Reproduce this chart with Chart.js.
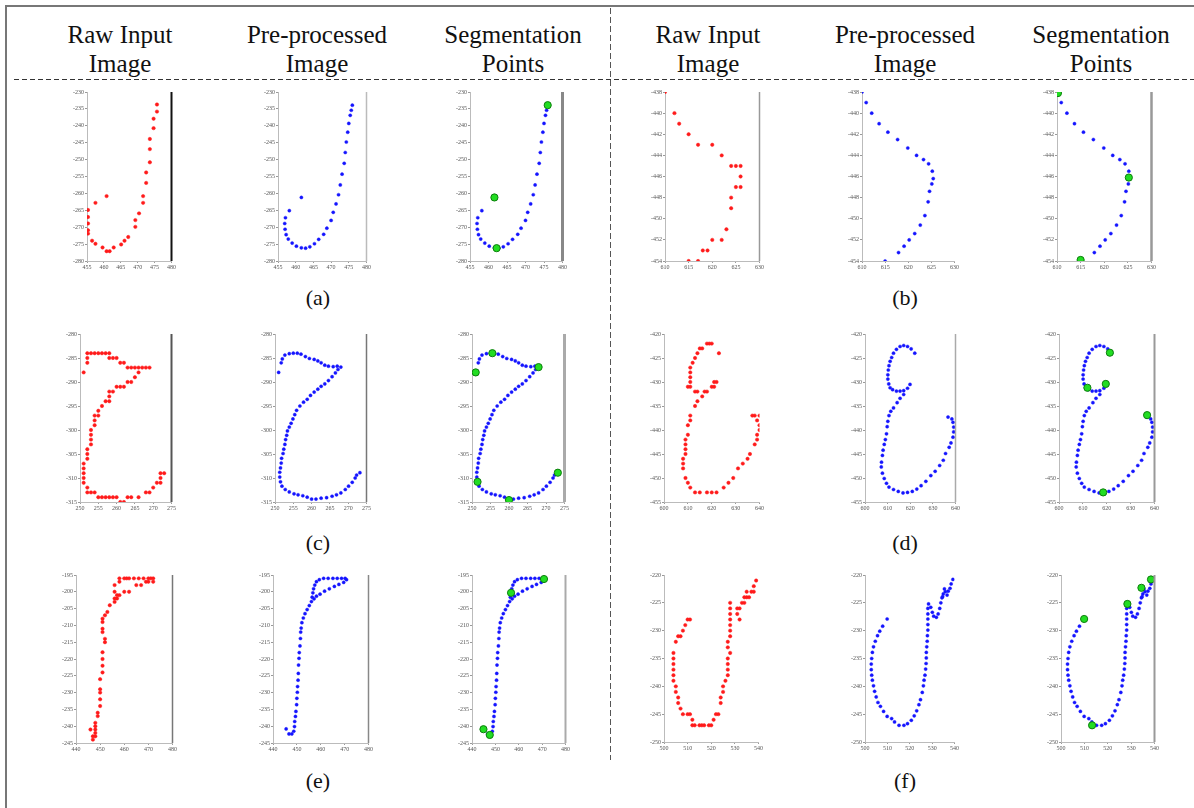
<!DOCTYPE html>
<html>
<head>
<meta charset="utf-8">
<script src="https://cdn.jsdelivr.net/npm/chart.js@4.4.0/dist/chart.umd.min.js"></script>
<style>
  body { margin: 0; background: #fff; width: 1194px; height: 808px; position: relative; overflow: hidden; font-family: "Liberation Serif", serif; }
  .frame { position: absolute; left: 5px; top: 5px; width: 1200px; height: 820px; border-left: 2px solid #777; border-top: 2px solid #777; }
  .hd { position: absolute; width: 200px; text-align: center; font-size: 25px; line-height: 29px; color: #111; top: 20px; }
  .cap { position: absolute; width: 60px; text-align: center; font-size: 22px; line-height: 26px; color: #111; }
  .hdash { position: absolute; left: 14px; top: 79px; width: 1180px; height: 1px; background: repeating-linear-gradient(90deg, #333 0 5px, transparent 5px 8px); }
  .vdash { position: absolute; left: 610px; top: 8px; width: 1px; height: 752px; background: repeating-linear-gradient(180deg, #555 0 6px, transparent 6px 9px); }
  canvas { position: absolute; }
</style>
</head>
<body>
<div class="frame"></div>
<div class="hd" style="left:20px">Raw Input<br>Image</div>
<div class="hd" style="left:217px">Pre-processed<br>Image</div>
<div class="hd" style="left:413px">Segmentation<br>Points</div>
<div class="hd" style="left:608px">Raw Input<br>Image</div>
<div class="hd" style="left:805px">Pre-processed<br>Image</div>
<div class="hd" style="left:1001px">Segmentation<br>Points</div>
<div class="hdash"></div>
<div class="vdash"></div>
<div class="cap" style="left:288px;top:285px">(a)</div>
<div class="cap" style="left:875px;top:285px">(b)</div>
<div class="cap" style="left:288px;top:530px">(c)</div>
<div class="cap" style="left:875px;top:530px">(d)</div>
<div class="cap" style="left:288px;top:768px">(e)</div>
<div class="cap" style="left:875px;top:768px">(f)</div>
<script>
// ---- data: [x, y] points of each stroke ----
// (a)
const rawA = [[475.7,-233.7],[475.7,-235.8],[474.7,-237.9],[474.7,-240.7],[473.6,-243.9],[473.6,-246.9],[473.6,-250.8],[472.5,-253.8],[472.5,-256.9],[471.6,-260.8],[471.6,-262.8],[470.4,-265.9],[469.3,-267.9],[469.3,-269.9],[467.2,-272.9],[466.1,-274.0],[465.1,-275.1],[462.9,-276.0],[461.7,-277.1],[460.8,-277.1],[459.6,-276.0],[457.5,-274.9],[456.5,-274.0],[455.3,-271.9],[455.3,-270.9],[455.3,-268.9],[455.3,-267.0],[455.3,-264.9],[457.5,-262.8],[460.8,-260.8]];
const preA = [[476.0,-233.9],[475.7,-235.4],[475.4,-236.9],[475.0,-239.3],[474.7,-241.9],[474.3,-244.8],[474.0,-247.9],[473.7,-251.1],[473.1,-254.3],[472.6,-257.5],[472.1,-260.4],[471.4,-263.1],[470.6,-265.6],[470.0,-268.0],[468.8,-270.3],[467.9,-272.1],[466.5,-273.6],[465.3,-274.9],[464.0,-275.8],[462.8,-276.2],[461.6,-276.1],[460.2,-275.6],[459.0,-274.7],[457.9,-273.5],[457.3,-272.2],[457.0,-270.6],[456.9,-268.9],[457.1,-267.2],[458.2,-265.1],[461.6,-261.2]];
const segA = [[476.0,-233.9],[461.6,-261.2],[462.2,-276.2]];
// (b)
const rawB = [[610,-438],[612,-440],[613,-441],[615,-442],[617,-443],[620,-443],[622,-444],[624,-445],[625,-445],[626,-445],[626,-446],[625,-447],[626,-447],[624,-448],[624,-449],[623,-451],[622,-452],[620,-452],[619,-453],[618,-453],[617,-454],[615,-454]];
const preB = [[610.0,-438.0],[610.9,-439.0],[612.1,-440.0],[613.7,-441.0],[615.6,-441.8],[617.7,-442.5],[619.9,-443.3],[621.8,-444.0],[623.3,-444.4],[624.4,-444.8],[625.2,-445.5],[625.4,-446.2],[625.1,-446.7],[624.6,-447.4],[624.3,-448.4],[623.6,-449.7],[622.6,-450.6],[621.4,-451.4],[620.2,-452.0],[619.1,-452.6],[617.9,-453.2],[615.0,-454.0]];
const segB = [[610.2,-438.1],[625.2,-446.1],[615.0,-453.9]];
// (c)
const rawC = [[252,-284],[253,-284],[254,-284],[255,-284],[256,-284],[257,-284],[258,-284],[252,-285],[258,-285],[259,-285],[260,-285],[252,-286],[261,-286],[262,-286],[263,-287],[264,-287],[265,-287],[266,-287],[267,-287],[268,-287],[269,-287],[251,-288],[266,-288],[265,-289],[263,-290],[264,-290],[260,-291],[261,-291],[262,-291],[258,-292],[259,-292],[258,-293],[257,-294],[258,-294],[256,-295],[255,-296],[254,-297],[255,-297],[254,-298],[254,-299],[253,-300],[253,-301],[253,-302],[253,-303],[252,-304],[252,-305],[252,-306],[251,-307],[251,-308],[251,-309],[251,-310],[251,-311],[252,-312],[252,-313],[253,-313],[254,-313],[255,-314],[256,-314],[257,-314],[258,-314],[259,-314],[260,-314],[261,-315],[262,-315],[263,-314],[264,-314],[266,-314],[268,-313],[269,-313],[270,-312],[271,-311],[272,-311],[272,-310],[272,-309],[273,-309]];
const preC = [[251.0,-288.0],[251.7,-286.0],[252.0,-285.2],[252.7,-284.4],[253.9,-284.1],[255.0,-284.0],[256.1,-284.0],[257.1,-284.2],[258.3,-284.7],[259.4,-285.1],[260.7,-285.3],[261.7,-285.6],[262.6,-286.0],[263.6,-286.5],[264.6,-286.7],[265.9,-286.8],[267.0,-286.7],[268.0,-286.9],[267.2,-287.4],[266.5,-288.1],[265.6,-288.9],[264.6,-289.7],[263.6,-290.4],[262.6,-290.9],[261.7,-291.5],[260.7,-292.1],[259.7,-292.8],[258.8,-293.6],[257.8,-294.2],[256.8,-295.0],[255.9,-295.9],[255.4,-296.8],[254.9,-297.7],[254.4,-298.6],[253.9,-299.4],[253.4,-300.2],[253.2,-301.1],[252.9,-302.0],[252.7,-303.0],[252.4,-304.0],[252.2,-304.9],[251.8,-305.9],[251.7,-306.9],[251.5,-307.9],[251.3,-308.8],[251.3,-309.8],[251.5,-310.8],[251.9,-311.7],[252.8,-312.4],[253.9,-312.9],[255.2,-313.3],[256.3,-313.5],[257.6,-313.7],[258.8,-314.0],[260.0,-314.4],[261.2,-314.4],[262.6,-314.2],[264.1,-314.1],[265.6,-313.8],[266.8,-313.5],[268.0,-313.1],[269.2,-312.4],[270.1,-311.7],[271.1,-310.9],[271.9,-310.0],[272.3,-309.4],[273.2,-308.9]];
const segC = [[251.0,-288.0],[255.5,-284.0],[268.0,-286.9],[273.2,-308.9],[251.5,-310.8],[260.0,-314.6]];
// (d)
const rawD = [[618,-422],[619,-422],[620,-422],[616,-423],[615,-423],[614,-424],[613,-425],[612,-426],[611,-427],[611,-428],[611,-429],[611,-430],[610,-431],[611,-431],[613,-432],[614,-432],[616,-433],[617,-432],[618,-432],[620,-431],[621,-431],[621,-430],[622,-430],[623,-424],[614,-434],[613,-435],[611,-437],[611,-438],[610,-439],[610,-441],[609,-442],[609,-443],[609,-444],[609,-445],[608,-446],[608,-447],[608,-448],[609,-450],[610,-451],[611,-452],[613,-453],[615,-453],[618,-453],[620,-453],[622,-453],[625,-452],[627,-451],[629,-450],[631,-448],[633,-447],[635,-446],[636,-445],[638,-443],[639,-442],[639,-441],[640,-440],[640,-439],[639,-438],[638,-437],[637,-437],[640,-437]];
const preD = [[622.0,-424.0],[620.4,-423.1],[618.8,-422.6],[617.1,-422.4],[615.5,-422.6],[613.9,-423.2],[612.6,-424.0],[611.8,-424.9],[611.1,-425.7],[610.6,-426.6],[610.3,-427.5],[610.1,-428.5],[610.1,-429.4],[610.5,-430.4],[611.1,-431.2],[612.2,-431.6],[613.9,-431.9],[615.5,-431.9],[617.1,-431.8],[618.8,-431.3],[619.9,-430.5],[617.1,-432.6],[615.5,-433.4],[614.2,-434.3],[612.6,-435.4],[611.4,-436.1],[610.6,-437.0],[610.1,-438.2],[609.8,-439.3],[609.5,-440.8],[609.0,-442.0],[608.5,-443.0],[608.0,-444.2],[607.7,-445.3],[607.3,-446.7],[607.2,-447.7],[607.7,-449.0],[608.5,-450.1],[609.5,-451.1],[610.6,-451.9],[612.6,-452.4],[614.7,-452.8],[616.8,-453.1],[618.8,-453.0],[620.9,-452.8],[622.9,-452.3],[624.8,-451.6],[626.9,-450.7],[629.1,-449.5],[631.0,-448.6],[633.0,-447.4],[634.6,-446.3],[635.6,-444.9],[637.2,-443.6],[638.0,-442.7],[638.9,-441.5],[639.2,-440.4],[639.2,-439.4],[638.9,-438.4],[638.4,-437.7],[636.7,-437.3]];
const segD = [[621.3,-423.9],[619.6,-430.4],[611.9,-431.2],[636.9,-436.9],[618.5,-453.0]];
// (e)
const rawE = [[446,-241],[447,-243],[447,-244],[448,-242],[448,-243],[448,-241],[448,-240],[448,-239],[449,-237],[449,-236],[450,-234],[450,-232],[450,-230],[450,-229],[450,-226],[451,-224],[451,-222],[451,-220],[451,-218],[452,-215],[452,-214],[451,-212],[451,-211],[451,-209],[451,-208],[452,-207],[453,-206],[454,-204],[456,-203],[456,-202],[457,-202],[457,-201],[456,-200],[456,-198],[458,-197],[458,-196],[460,-196],[461,-196],[462,-196],[464,-196],[466,-196],[468,-196],[470,-196],[471,-196],[472,-196],[469,-197],[470,-197],[472,-197],[465,-198],[467,-198],[460,-200],[462,-200],[458,-201]];
const preE = [[445.5,-240.8],[446.7,-242.3],[447.9,-242.3],[448.7,-241.5],[449.0,-240.1],[449.1,-238.6],[449.4,-237.1],[449.6,-235.6],[449.9,-233.6],[450.0,-231.7],[450.2,-229.9],[450.3,-228.2],[450.5,-226.3],[450.6,-224.3],[450.7,-221.8],[450.9,-219.8],[451.0,-218.1],[451.3,-216.1],[451.5,-213.9],[451.6,-212.0],[451.8,-210.8],[452.1,-209.2],[452.7,-207.8],[453.4,-206.5],[454.3,-205.3],[455.2,-204.1],[456.1,-202.9],[456.4,-201.6],[456.7,-200.3],[457.0,-199.1],[457.5,-198.0],[458.2,-197.0],[459.4,-196.4],[461.2,-196.0],[463.1,-196.0],[465.1,-196.0],[466.9,-196.0],[468.7,-196.0],[470.2,-196.0],[470.8,-196.4],[469.6,-197.2],[467.6,-197.8],[465.7,-198.4],[463.6,-199.1],[461.6,-199.8],[459.7,-200.7],[458.2,-201.3],[457.2,-202.1]];
const segE = [[470.8,-196.2],[456.7,-200.3],[444.9,-240.9],[447.6,-242.6]];
// (f)
const rawF = [[539,-221],[538,-222],[537,-223],[538,-223],[535,-223],[534,-224],[535,-224],[536,-224],[533,-225],[534,-225],[528,-225],[528,-226],[528,-227],[531,-226],[532,-226],[531,-227],[532,-228],[528,-228],[528,-229],[528,-230],[528,-231],[527,-232],[527,-233],[528,-234],[527,-235],[527,-236],[527,-237],[527,-238],[526,-239],[525,-240],[525,-241],[524,-242],[524,-243],[523,-245],[522,-245],[521,-246],[520,-247],[519,-247],[517,-247],[516,-247],[515,-247],[513,-247],[512,-247],[512,-246],[511,-245],[510,-245],[508,-245],[507,-244],[506,-243],[506,-242],[505,-241],[505,-240],[504,-239],[504,-238],[504,-237],[504,-236],[504,-235],[504,-234],[505,-232],[506,-231],[507,-231],[508,-230],[509,-229],[510,-228],[511,-228]];
const preF = [[509.9,-227.9],[507.9,-229.2],[506.6,-230.1],[505.6,-230.9],[504.6,-231.9],[503.8,-232.9],[503.3,-233.9],[503.0,-235.0],[502.8,-236.0],[502.8,-237.0],[503.0,-238.0],[503.3,-238.9],[503.8,-239.9],[504.3,-240.9],[505.0,-241.9],[505.8,-242.9],[506.9,-243.6],[508.3,-244.5],[509.9,-245.4],[511.9,-245.8],[513.2,-246.4],[515.2,-247.0],[517.4,-247.0],[519.0,-246.7],[520.7,-246.1],[522.0,-245.3],[523.1,-244.4],[524.1,-243.3],[524.8,-242.4],[525.6,-241.1],[526.1,-239.9],[526.4,-238.9],[526.8,-238.0],[527.1,-236.9],[527.3,-235.9],[527.4,-234.9],[527.4,-233.9],[527.6,-232.9],[527.8,-231.9],[527.9,-230.9],[528.1,-229.9],[528.1,-228.9],[528.1,-227.9],[528.1,-227.0],[528.1,-226.0],[528.4,-225.2],[529.4,-225.8],[530.1,-226.7],[530.7,-227.4],[531.9,-227.6],[532.7,-227.0],[533.4,-226.0],[533.9,-225.0],[534.4,-224.1],[535.0,-223.4],[535.9,-223.0],[536.7,-223.6],[537.2,-222.9],[538.0,-222.4],[538.5,-221.6],[539.3,-220.8],[535.5,-222.5],[534.7,-223.9]];
const segF = [[509.9,-227.9],[528.4,-225.2],[534.4,-222.3],[538.5,-220.8],[513.3,-247.0]];

// axis ranges: [min, max, step]
const axisX = { a: [455, 480, 5], b: [610, 630, 5], c: [250, 275, 5], d: [600, 640, 10], e: [440, 480, 10], f: [500, 540, 10] };
const axisY = { a: [-280, -230, 5], b: [-454, -438, 2], c: [-315, -280, 5], d: [-455, -420, 5], e: [-245, -195, 5], f: [-250, -220, 5] };

// plot areas on the page: row [top, bottom], columns [left, right] for raw / pre / seg
const rowY = { a: [92, 261], b: [92, 261], c: [334, 502], d: [334, 502], e: [575, 743], f: [575, 742] };
const colX = {
  a: [[87, 172], [278, 367], [470, 563]],
  b: [[665, 760], [862, 955], [1057, 1152]],
  c: [[80, 172], [275, 367], [472, 565]],
  d: [[664, 760], [865, 956], [1059, 1155]],
  e: [[76, 173], [273, 369], [472, 566]],
  f: [[664, 759], [865, 955], [1061, 1155]]
};
// right hand frame line of each panel (null = none)
const edges = {
  a: [['#111', 2], ['#bbb', 1.5], ['#888', 3]],
  b: [['#999', 1.5], null, ['#999', 2.5]],
  c: [['#555', 2], ['#777', 1.5], ['#aaa', 3]],
  d: [null, ['#aaa', 1.5], ['#999', 2]],
  e: [['#777', 1.5], ['#888', 1.5], ['#aaa', 2]],
  f: [null, null, ['#999', 2]]
};

const samples = {
  a: [rawA, preA, segA], b: [rawB, preB, segB], c: [rawC, preC, segC],
  d: [rawD, preD, segD], e: [rawE, preE, segE], f: [rawF, preF, segF]
};

Chart.defaults.font.family = '"Liberation Serif", serif';

const edgePlugin = {
  id: 'edge',
  afterDatasetsDraw(chart, args, opts) {
    if (!opts || !opts.color) return;
    const a = chart.chartArea, c = chart.ctx;
    c.save();
    c.strokeStyle = opts.color;
    c.lineWidth = opts.width;
    c.beginPath();
    c.moveTo(a.right, a.top);
    c.lineTo(a.right, a.bottom);
    c.stroke();
    c.restore();
  }
};

const pts = arr => arr.map(p => ({ x: p[0], y: p[1] }));

function redSet(d) {
  return { data: pts(d), pointRadius: 1.7, pointStyle: 'circle', backgroundColor: '#ff1a1a', borderColor: '#ff1a1a', borderWidth: 0.5, order: 1 };
}
function blueSet(d) {
  return { data: pts(d), pointRadius: 1.6, pointStyle: 'circle', backgroundColor: '#1414ff', borderColor: '#1414ff', borderWidth: 0.4, order: 1 };
}
function greenSet(d) {
  return { data: pts(d), pointRadius: 3.6, pointStyle: 'circle', backgroundColor: '#22dd22', borderColor: '#0d7d0d', borderWidth: 1, order: 0 };
}

function makePanel(box, ax, ay, sets, edge) {
  const padL = 24, padB = 12, padT = 5, padR = 5;
  const cv = document.createElement('canvas');
  cv.width = box[1] - box[0] + padL + padR;
  cv.height = box[3] - box[2] + padT + padB;
  cv.style.left = (box[0] - padL) + 'px';
  cv.style.top = (box[2] - padT) + 'px';
  document.body.appendChild(cv);
  const tickFont = { size: 6 };
  new Chart(cv.getContext('2d'), {
    type: 'scatter',
    data: { datasets: sets },
    options: {
      responsive: false,
      animation: false,
      events: [],
      layout: { autoPadding: false, padding: { top: padT, right: padR, left: 0, bottom: 0 } },
      plugins: {
        legend: { display: false },
        tooltip: { enabled: false },
        edge: edge ? { color: edge[0], width: edge[1] } : {}
      },
      scales: {
        x: {
          min: ax[0], max: ax[1],
          ticks: { stepSize: ax[2], font: tickFont, color: '#555', padding: 1, maxRotation: 0, autoSkip: false },
          grid: { display: true, drawOnChartArea: false, tickLength: 2, color: '#999' },
          border: { color: '#bbb' },
          afterFit: s => { s.height = padB; }
        },
        y: {
          min: ay[0], max: ay[1],
          ticks: { stepSize: ay[2], font: tickFont, color: '#555', padding: 1, autoSkip: false },
          grid: { display: true, drawOnChartArea: false, tickLength: 2, color: '#999' },
          border: { color: '#bbb' },
          afterFit: s => { s.width = padL; }
        }
      }
    },
    plugins: [edgePlugin]
  });
}

for (const k of Object.keys(samples)) {
  const [raw, pre, seg] = samples[k];
  const ry = rowY[k], cx = colX[k];
  const panelSets = [
    [redSet(raw)],
    [blueSet(pre)],
    [greenSet(seg), blueSet(pre)]
  ];
  for (let i = 0; i < 3; i++) {
    makePanel([cx[i][0], cx[i][1], ry[0], ry[1]], axisX[k], axisY[k], panelSets[i], edges[k][i]);
  }
}
</script>
</body>
</html>
